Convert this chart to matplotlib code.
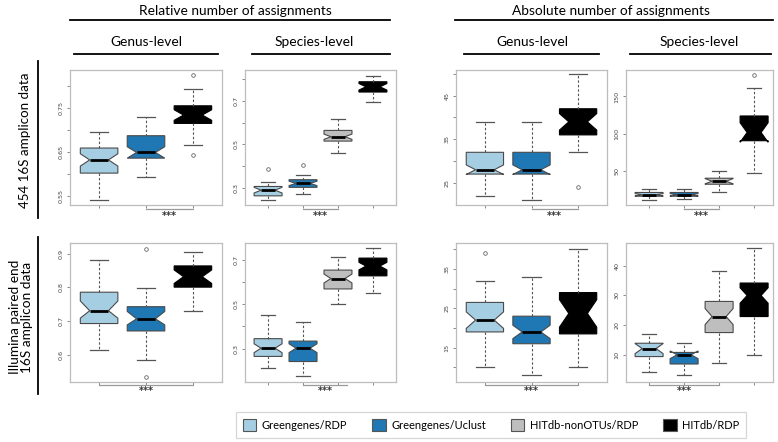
import matplotlib
matplotlib.use("Agg")
import matplotlib.pyplot as plt
from matplotlib.lines import Line2D
from matplotlib.patches import Patch
import matplotlib.transforms as mtransforms

W, H = 778, 442
fig = plt.figure(figsize=(W / 100, H / 100), dpi=100)
plt.rcParams['font.family'] = ['Lato', 'DejaVu Sans']

# ---------------- data ----------------
methods = ["Greengenes/RDP", "Greengenes/Uclust", "HITdb-nonOTUs/RDP", "HITdb/RDP"]
method_colors = ["#a6cee3", "#1f78b4", "#bebebe", "#000000"]
genus_methods = [0, 1, 3]
species_methods = [0, 1, 2, 3]

# (whislo, q1, med, q3, whishi)
rel_genus_454 = [(0.541, 0.602, 0.632, 0.659, 0.695),
                 (0.593, 0.636, 0.649, 0.687, 0.729),
                 (0.666, 0.715, 0.734, 0.755, 0.793)]
rel_genus_454_notch = [(0.618, 0.646), (0.636, 0.662), (0.722, 0.746)]
rel_genus_454_fliers = [[], [], [0.825, 0.643]]

rel_species_454 = [(0.244, 0.264, 0.290, 0.307, 0.329),
                   (0.271, 0.303, 0.321, 0.338, 0.360),
                   (0.459, 0.515, 0.535, 0.564, 0.615),
                   (0.693, 0.740, 0.764, 0.787, 0.815)]
rel_species_454_notch = [(0.277, 0.303), (0.311, 0.331), (0.523, 0.547), (0.749, 0.779)]
rel_species_454_fliers = [[0.386], [0.406], [], []]

abs_genus_454 = [(22, 27, 28, 32, 39),
                 (21, 27, 28, 32, 39),
                 (32, 36, 39, 42, 50)]
abs_genus_454_notch = [(26.9, 29.1), (26.9, 29.1), (37.1, 40.9)]
abs_genus_454_fliers = [[], [], [24]]

abs_species_454 = [(12, 17, 19, 22, 26),
                   (13, 17, 19, 22, 27),
                   (22, 33, 37, 41, 51),
                   (48, 91, 102, 124, 161)]
abs_species_454_notch = [(17.5, 20.5), (17.5, 20.5), (33.5, 40.5), (89, 115)]
abs_species_454_fliers = [[], [], [], [179]]

rel_genus_ill = [(0.613, 0.693, 0.731, 0.786, 0.883),
                 (0.586, 0.671, 0.707, 0.743, 0.799),
                 (0.731, 0.801, 0.832, 0.864, 0.906)]
rel_genus_ill_notch = [(0.709, 0.760), (0.689, 0.729), (0.812, 0.852)]
rel_genus_ill_fliers = [[], [0.915, 0.534], []]

rel_species_ill = [(0.212, 0.265, 0.302, 0.345, 0.450),
                   (0.177, 0.242, 0.302, 0.334, 0.420),
                   (0.503, 0.569, 0.616, 0.654, 0.711),
                   (0.550, 0.628, 0.672, 0.708, 0.753)]
rel_species_ill_notch = [(0.282, 0.322), (0.282, 0.322), (0.596, 0.636), (0.655, 0.689)]
rel_species_ill_fliers = [[], [], [], []]

abs_genus_ill = [(10, 19, 22, 26.5, 32),
                 (8, 16, 19, 23, 33),
                 (10, 18.5, 23.7, 29, 40)]
abs_genus_ill_notch = [(19.9, 24.1), (17.3, 20.7), (20.2, 27.2)]
abs_genus_ill_fliers = [[39], [], []]

abs_species_ill = [(4, 9.3, 12, 13.8, 17),
                   (3, 6.8, 9.9, 10.7, 14),
                   (7, 17.4, 22.8, 27.9, 38),
                   (10, 22.8, 29.9, 34.1, 46)]
abs_species_ill_notch = [(10.3, 13.7), (8.6, 11.2), (20.1, 25.5), (27.3, 32.5)]
abs_species_ill_fliers = [[], [], [], []]

col_titles = ["Relative number of assignments", "Absolute number of assignments"]
level_titles = ["Genus-level", "Species-level"]
row_titles = ["454 16S amplicon data", "Illumina paired end\n16S amplicon data"]

# ---------------- layout helpers ----------------
def add_axes_px(x0, y0, x1, y1):
    return fig.add_axes([x0 / W, 1 - y1 / H, (x1 - x0) / W, (y1 - y0) / H])

def hline_px(x0, x1, y, color="black", lw=1.3):
    fig.add_artist(Line2D([x0 / W, x1 / W], [1 - y / H, 1 - y / H], color=color, lw=lw,
                          transform=fig.transFigure))

def vline_px(x, y0, y1, color="black", lw=1.3):
    fig.add_artist(Line2D([x / W, x / W], [1 - y0 / H, 1 - y1 / H], color=color, lw=lw,
                          transform=fig.transFigure))

def text_px(x, y, s, **kw):
    fig.text(x / W, 1 - y / H, s, ha="center", va="center", **kw)

panels = [
    dict(rect=(70, 70, 222, 205), stats=rel_genus_454, notch=rel_genus_454_notch,
         fliers=rel_genus_454_fliers, meth=genus_methods, xlim=(0.38, 3.62), ylim=(0.5295, 0.8364),
         ticks=[0.55, 0.60, 0.65, 0.70, 0.75, 0.80], labels=["0.55", "", "0.65", "", "0.75", ""],
         bracket=(2, 3)),
    dict(rect=(245, 70, 396, 205), stats=rel_species_454, notch=rel_species_454_notch,
         fliers=rel_species_454_fliers, meth=species_methods, xlim=(0.34, 4.66), ylim=(0.222, 0.841),
         ticks=[0.3, 0.4, 0.5, 0.6, 0.7, 0.8], labels=["0.3", "", "0.5", "", "0.7", ""],
         bracket=(2, 3)),
    dict(rect=(456, 70, 607, 205), stats=abs_genus_454, notch=abs_genus_454_notch,
         fliers=abs_genus_454_fliers, meth=genus_methods, xlim=(0.38, 3.62), ylim=(19.9, 50.9),
         ticks=[25, 30, 35, 40, 45, 50], labels=["25", "", "35", "", "45", ""],
         bracket=(2, 3)),
    dict(rect=(626, 70, 773, 205), stats=abs_species_454, notch=abs_species_454_notch,
         fliers=abs_species_454_fliers, meth=species_methods, xlim=(0.34, 4.54), ylim=(5.3, 185.3),
         ticks=[50, 100, 150], labels=["50", "100", "150"],
         bracket=(2, 3)),
    dict(rect=(70, 243, 222, 381.5), stats=rel_genus_ill, notch=rel_genus_ill_notch,
         fliers=rel_genus_ill_fliers, meth=genus_methods, xlim=(0.38, 3.62), ylim=(0.521, 0.932),
         ticks=[0.6, 0.7, 0.8, 0.9], labels=["0.6", "0.7", "0.8", "0.9"],
         bracket=(1, 3)),
    dict(rect=(245, 243, 396, 381.5), stats=rel_species_ill, notch=rel_species_ill_notch,
         fliers=rel_species_ill_fliers, meth=species_methods, xlim=(0.34, 4.66), ylim=(0.152, 0.776),
         ticks=[0.3, 0.4, 0.5, 0.6, 0.7], labels=["0.3", "", "0.5", "", "0.7"],
         bracket=(2, 3.25)),
    dict(rect=(456, 243, 607, 381.5), stats=abs_genus_ill, notch=abs_genus_ill_notch,
         fliers=abs_genus_ill_fliers, meth=genus_methods, xlim=(0.38, 3.62), ylim=(6.4, 41.6),
         ticks=[10, 15, 20, 25, 30, 35, 40], labels=["", "15", "", "25", "", "35", ""],
         bracket=(1, 3)),
    dict(rect=(626, 243, 773, 381.5), stats=abs_species_ill, notch=abs_species_ill_notch,
         fliers=abs_species_ill_fliers, meth=species_methods, xlim=(0.34, 4.54), ylim=(0.9, 47.6),
         ticks=[10, 20, 30, 40], labels=["10", "20", "30", "40"],
         bracket=(1, 3)),
]

EDGE = "#4a4a4a"
FRAME = "#bdbdbd"

for p in panels:
    x0, y0, x1, y1 = p["rect"]
    ax = add_axes_px(x0, y0, x1, y1)
    n = len(p["stats"])
    bxpstats = []
    for i in range(n):
        wl, q1, md, q3, wh = p["stats"][i]
        cl, ch = p["notch"][i]
        bxpstats.append(dict(whislo=wl, q1=q1, med=md, q3=q3, whishi=wh,
                             cilo=cl, cihi=ch, fliers=p["fliers"][i], mean=md))
    positions = list(range(1, n + 1))
    res = ax.bxp(bxpstats, positions=positions, widths=0.8, shownotches=True,
                 patch_artist=True, showfliers=True, manage_ticks=False,
                 whiskerprops=dict(color="#555555", lw=0.8, linestyle=(0, (2.2, 1.8))),
                 capprops=dict(color="#555555", lw=0.9),
                 medianprops=dict(color="black", lw=2.0, solid_capstyle="butt"),
                 flierprops=dict(marker="o", markersize=2.6, markerfacecolor="none",
                                 markeredgecolor="#666666", markeredgewidth=0.6))
    for patch, m in zip(res["boxes"], p["meth"]):
        c = method_colors[m]
        patch.set_facecolor(c)
        patch.set_edgecolor("black" if c == "#000000" else EDGE)
        patch.set_linewidth(0.8)
    ax.set_xlim(*p["xlim"])
    ax.set_ylim(*p["ylim"])
    ax.set_xticks(positions)
    ax.set_xticklabels([])
    ax.set_yticks(p["ticks"])
    ax.set_yticklabels(p["labels"], rotation=90, va="center", fontsize=4.6,
                       color="#444444", family="DejaVu Sans")
    ax.tick_params(axis="both", length=2.4, width=0.6, color="#777777", pad=2.2)
    for s in ax.spines.values():
        s.set_color(FRAME)
        s.set_linewidth(0.9)
    # significance bracket below the axes
    trans = mtransforms.blended_transform_factory(ax.transData, fig.transFigure)
    bx0, bx1 = p["bracket"]
    ybr = y1 + (4.3 if y1 < 300 else 3.0)
    ax.add_line(Line2D([bx0, bx1], [1 - ybr / H, 1 - ybr / H], transform=trans,
                       color="#9a9a9a", lw=0.9, clip_on=False))
    ystar = y1 + (10.5 if y1 < 300 else 9.5)
    ax.text((bx0 + bx1) / 2, 1 - ystar / H, "***", transform=trans, ha="center",
            va="center", fontsize=7, color="#333333", fontweight="bold",
            family="DejaVu Sans")

# ---------------- headers ----------------
HFS = 9.9
text_px(235, 11, col_titles[0], fontsize=HFS)
text_px(611, 11, col_titles[1], fontsize=HFS)
hline_px(70, 390, 19.5)
hline_px(455, 773, 19.5)
text_px(146, 42, level_titles[0], fontsize=HFS)
text_px(314, 42, level_titles[1], fontsize=HFS)
text_px(532, 42, level_titles[0], fontsize=HFS)
text_px(699, 42, level_titles[1], fontsize=HFS)
hline_px(74, 218, 53.5)
hline_px(252, 390, 53.5)
hline_px(464, 599, 53.5)
hline_px(630, 771, 53.5)

# row labels
text_px(25, 140, row_titles[0], fontsize=9.6, rotation=90)
text_px(21, 317, row_titles[1], fontsize=9.8, rotation=90, linespacing=1.05)
vline_px(38, 61, 218)
vline_px(38, 237, 394)

# ---------------- legend ----------------
handles = [Patch(facecolor=c, edgecolor="#555555", lw=0.8) for c in method_colors]
leg = fig.legend(handles, methods, ncol=4, loc="center",
                 bbox_to_anchor=(491 / W, 1 - 425 / H), frameon=True, fancybox=False,
                 fontsize=8.0, handlelength=1.25, handleheight=1.25, handletextpad=0.5,
                 columnspacing=2.2, borderpad=0.6)
leg.get_frame().set_edgecolor("#cccccc")
leg.get_frame().set_linewidth(0.9)

fig.savefig("out.png", dpi=100)
